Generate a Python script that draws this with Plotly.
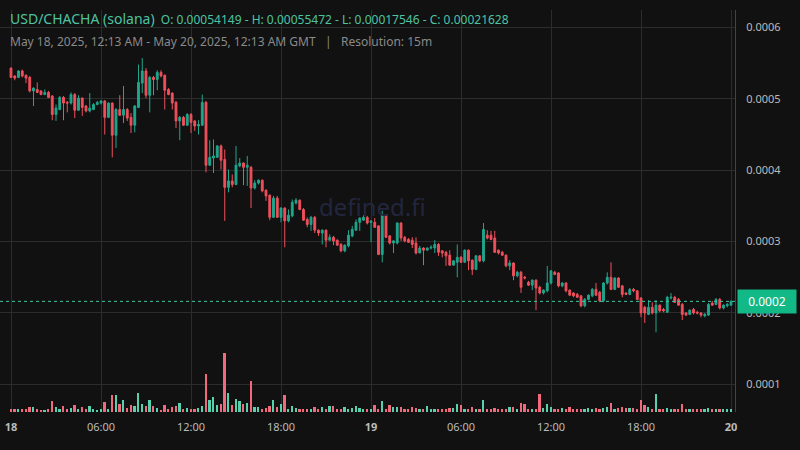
import plotly.graph_objects as go
import pandas as pd

# prices in micro-USD (1e-6)
opens = [543,532,530,539,533,530,511,513,511,506,509,504,478,485,502,495,494,506,484,501,490,483,485,492,494,497,474,494,449,485,
477,485,474,463,488,522,539,505,530,527,537,533,513,508,495,469,474,463,478,469,462,463,495,407,417,418,434,415,376,385,
380,406,410,404,404,375,382,386,372,365,334,361,334,347,329,336,354,358,345,331,324,334,316,312,316,302,306,302,296,287,
294,308,316,327,330,334,327,327,322,282,337,308,298,298,326,306,303,302,298,284,291,288,291,291,296,287,285,281,267,271,
278,271,288,274,261,280,273,309,309,305,288,285,281,266,270,252,257,250,243,239,246,236,228,231,242,257,256,238,242,232,
228,226,224,210,219,224,233,229,217,242,250,233,249,238,228,226,233,231,221,208,198,208,200,211,205,201,221,222,219,212,
200,198,205,201,200,196,197,214,212,219,207,210,211]
highs = [544,533,540,541,534,532,516,523,512,513,511,505,492,504,504,497,509,508,505,502,491,508,494,497,498,498,495,495,487,505,
518,487,480,491,548,557,543,532,532,540,540,534,515,509,497,476,476,480,480,470,470,506,497,442,443,435,436,429,401,394,
434,417,411,420,406,386,387,387,373,366,364,364,348,348,345,359,361,359,347,334,336,336,317,317,317,310,308,303,298,296,
316,322,331,334,337,336,329,333,323,343,338,309,302,327,327,308,305,306,306,294,292,292,295,302,298,288,287,288,274,296,
280,289,289,275,281,281,326,316,315,315,289,287,282,274,271,259,259,252,245,247,247,238,233,266,260,259,257,243,243,233,
229,228,225,221,226,235,242,231,243,257,271,250,250,239,229,235,235,232,222,210,218,215,218,212,207,224,228,224,221,214,
201,205,207,203,201,200,214,217,221,221,212,214,218]
lows = [529,526,529,530,522,509,490,508,505,505,501,470,469,484,470,481,492,473,483,476,481,481,484,491,492,450,473,418,431,476,
466,469,452,453,487,508,501,481,505,512,530,485,505,485,459,442,462,462,452,455,450,462,397,406,396,417,401,329,369,376,
379,404,379,378,347,373,380,369,357,330,333,333,327,292,327,334,352,344,329,320,315,312,308,296,292,301,295,294,285,285,
292,306,315,315,329,324,299,319,281,271,305,296,284,296,301,299,298,291,282,287,267,289,289,284,280,278,266,266,270,250,
270,271,260,253,260,271,271,303,302,284,282,280,264,260,246,250,228,247,238,232,204,226,226,229,240,253,236,236,229,224,
222,221,208,208,218,222,224,215,215,240,232,232,235,222,225,225,229,218,194,186,197,198,173,201,201,200,219,214,210,190,
196,197,198,198,194,194,196,210,211,205,205,208,210]
closes = [530,529,539,532,529,511,515,509,506,509,502,478,487,502,494,494,506,484,501,488,483,487,492,495,497,474,494,449,485,477,
485,473,463,490,523,539,505,530,527,537,532,512,506,494,469,474,463,478,467,462,464,495,407,418,420,434,414,376,385,380,
407,410,404,407,375,382,386,371,364,334,361,334,347,329,337,355,358,345,330,324,334,316,312,316,302,306,301,295,287,295,
309,317,327,333,334,326,329,320,282,337,306,298,301,326,305,301,299,296,284,291,288,291,292,296,285,284,280,267,273,278,
271,288,273,261,280,273,317,305,303,285,284,281,266,270,252,257,236,249,239,246,235,228,232,242,259,254,238,242,231,225,
224,222,210,219,225,233,225,217,242,250,233,249,236,226,226,233,231,219,200,200,208,200,211,203,203,222,222,215,211,198,
197,204,200,200,197,198,212,211,219,207,211,212,216]
volume = [8,8,8,8,8,14,14,8,5,5,8,32,14,8,17,8,11,20,8,14,8,17,8,5,8,29,8,52,50,23,
35,11,20,17,58,23,17,35,17,11,5,20,8,14,17,26,8,11,8,8,11,17,116,35,44,20,23,178,58,20,
38,32,23,26,95,14,14,8,11,17,35,14,23,52,8,17,11,8,8,8,8,14,8,14,8,17,17,8,8,14,
8,11,17,11,8,8,8,20,8,32,8,20,16,14,16,8,8,16,12,8,8,18,8,8,8,8,8,12,12,25,
22,10,8,16,8,8,37,8,8,12,8,8,8,16,16,10,28,25,8,10,8,55,12,25,16,8,8,12,8,16,
8,8,10,8,12,8,12,10,12,16,28,10,12,16,12,12,12,8,35,22,16,8,55,8,8,12,8,8,8,25,
8,8,8,8,8,8,12,8,8,8,8,8,8]

tick_hours = [0, 6, 12, 18, 24, 30, 36, 42, 48]
tick_labels = ["<b>18</b>", "06:00", "12:00", "18:00", "<b>19</b>", "06:00", "12:00", "18:00", "<b>20</b>"]
price_ticks = [0.0001, 0.0002, 0.0003, 0.0004, 0.0005, 0.0006]
last_price = 0.00021628

start = pd.Timestamp("2025-05-18 00:00")
times = [start + pd.Timedelta(minutes=15 * i) for i in range(len(closes))]
sc = 1e-6
o = [v * sc for v in opens]; h = [v * sc for v in highs]
l = [v * sc for v in lows]; c = [v * sc for v in closes]

GREEN, RED = "#1fa68c", "#f0505c"
vol_colors = ["#58d0ae" if cc >= oo else "#f0697c" for oo, cc in zip(opens, closes)]

fig = go.Figure()
fig.add_trace(go.Bar(x=times, y=volume, marker_color=vol_colors, marker_line_width=0,
                     width=15 * 60 * 1000 * 0.5, yaxis="y2", hoverinfo="skip"))
fig.add_trace(go.Candlestick(x=times, open=o, high=h, low=l, close=c,
                             increasing=dict(line=dict(color=GREEN, width=1), fillcolor=GREEN),
                             decreasing=dict(line=dict(color=RED, width=1), fillcolor=RED),
                             whiskerwidth=0))

fig.add_shape(type="line", xref="paper", x0=0, x1=1, y0=last_price, y1=last_price,
              line=dict(color="#3fc9a3", width=1, dash="dot"))

fig.update_layout(
    width=800, height=450, paper_bgcolor="#111111", plot_bgcolor="#111111",
    margin=dict(l=0, r=65, t=10, b=38, autoexpand=False), showlegend=False,
    font=dict(family="Noto Sans", color="#bbbbbb", size=11),
    xaxis=dict(type="date", range=[start - pd.Timedelta(minutes=44), start + pd.Timedelta(minutes=48 * 60 + 16)],
               tickvals=[start + pd.Timedelta(hours=t) for t in tick_hours], ticktext=tick_labels,
               showgrid=True, gridcolor="#2c2c2c", rangeslider=dict(visible=False), automargin=False,
               zeroline=False, showline=False, ticks="outside", ticklen=5, tickcolor="rgba(0,0,0,0)",
               tickfont=dict(color="#bbbbbb", size=11)),
    yaxis=dict(side="right", range=[0.0000613, 0.0006244], tickvals=price_ticks, automargin=False,
               ticktext=[f"{v:.4f}" for v in price_ticks], showgrid=True, gridcolor="#2c2c2c",
               zeroline=False, showline=True, linecolor="#444444", ticks="outside", ticklen=8,
               tickcolor="rgba(0,0,0,0)", tickfont=dict(color="#bbbbbb", size=11)),
    yaxis2=dict(overlaying="y", range=[0, 1213], visible=False),
    bargap=0,
)

fig.add_annotation(xref="paper", yref="y", x=1.003, y=last_price, xanchor="left", yanchor="middle",
                   text="0.0002", showarrow=False, bgcolor="#12b886", font=dict(color="#ffffff", size=12),
                   borderpad=3, width=52, align="center")
fig.add_annotation(xref="paper", yref="paper", x=0.507, y=0.512, text="defined.fi", showarrow=False,
                   font=dict(size=24, color="#22263f"))
fig.add_annotation(xref="paper", yref="paper", x=8 / 735, y=(412 - 18) / 402, xanchor="left", yanchor="middle",
                   showarrow=False,
                   text="<span style='font-size:14px'>USD/CHACHA (solana)</span>  O: 0.00054149 - H: 0.00055472 - L: 0.00017546 - C: 0.00021628",
                   font=dict(size=12, color="#4fc3a1"))
fig.add_annotation(xref="paper", yref="paper", x=8 / 735, y=(412 - 41) / 402, xanchor="left", yanchor="middle",
                   showarrow=False,
                   text="May 18, 2025, 12:13 AM - May 20, 2025, 12:13 AM GMT   |   Resolution: 15m",
                   font=dict(size=12, color="#8a8a8a"))

fig.write_html("out.html", config={"displayModeBar": False},
               post_script="document.body.style.margin='0';document.body.style.background='#111111';")
